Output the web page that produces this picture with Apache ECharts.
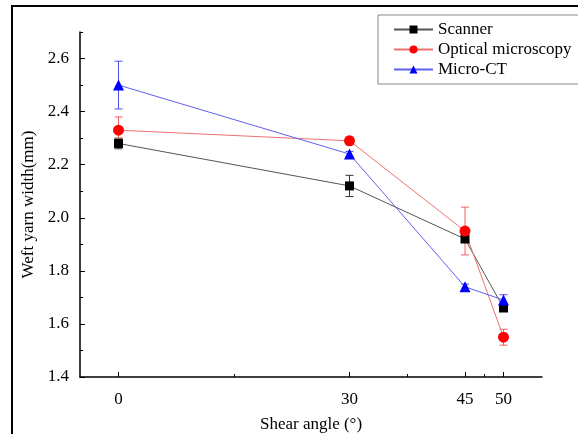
<!DOCTYPE html>
<html>
<head>
<meta charset="utf-8">
<script src="https://cdn.jsdelivr.net/npm/echarts@6/dist/echarts.min.js"></script>
<style>
  html, body { margin: 0; padding: 0; background: #fff; }
  #main { width: 578px; height: 434px; }
</style>
</head>
<body>
<div id="main"></div>
<script>
// shear angles (deg)
const angles = [0, 30, 45, 50];
const xLabelTicks = [0, 30, 45, 50];
const xMinorTicks = [15, 37.5, 47.5];
const yLabelTicks = [1.4, 1.6, 1.8, 2.0, 2.2, 2.4, 2.6];
const yMinorTicks = [1.5, 1.7, 1.9, 2.1, 2.3, 2.5, 2.7];

// weft yarn width (mm) and std deviation
const scanner = [2.28, 2.12, 1.92, 1.66];
const scannerErr = [0.02, 0.04, 0.01, 0.01];
const optical = [2.33, 2.29, 1.95, 1.55];
const opticalErr = [0.05, 0.015, 0.09, 0.03];
const microCT = [2.50, 2.24, 1.74, 1.69];
const microCTErr = [0.09, 0.01, 0.01, 0.02];

const font = 'Liberation Serif, Times New Roman, serif';

function pairs(vals) {
  return angles.map((a, i) => [a, vals[i]]);
}
function errData(vals, errs) {
  return angles.map((a, i) => [a, vals[i] - errs[i], vals[i] + errs[i]]);
}
function errSeries(name, vals, errs, color) {
  return {
    type: 'custom',
    name: name + ' error',
    data: errData(vals, errs),
    z: 1,
    silent: true,
    renderItem: function (params, api) {
      const x = api.value(0);
      const lo = api.coord([x, api.value(1)]);
      const hi = api.coord([x, api.value(2)]);
      const w = 4;
      const style = { stroke: color, lineWidth: 1 };
      return {
        type: 'group',
        children: [
          { type: 'line', shape: { x1: lo[0], y1: lo[1], x2: hi[0], y2: hi[1] }, style: style },
          { type: 'line', shape: { x1: lo[0] - w, y1: lo[1], x2: lo[0] + w, y2: lo[1] }, style: style },
          { type: 'line', shape: { x1: hi[0] - w, y1: hi[1], x2: hi[0] + w, y2: hi[1] }, style: style }
        ]
      };
    }
  };
}

const chart = echarts.init(document.getElementById('main'));

chart.setOption({
  animation: false,
  backgroundColor: '#fff',
  textStyle: { fontFamily: font },
  graphic: [{
    type: 'rect',
    shape: { x: 12, y: 6, width: 600, height: 460 },
    style: { fill: 'none', stroke: '#000', lineWidth: 2 },
    silent: true
  }],
  legend: {
    left: 378,
    top: 15,
    orient: 'vertical',
    data: ['Scanner', 'Optical microscopy', 'Micro-CT'],
    borderColor: '#888',
    borderWidth: 1,
    padding: [6, 30, 6, 15],
    itemGap: 3,
    itemWidth: 39,
    itemHeight: 10,
    textStyle: { fontFamily: font, fontSize: 17, color: '#000' }
  },
  grid: { left: 80, top: 32, right: 36, bottom: 57, containLabel: false, outerBoundsMode: 'none' },
  xAxis: [{
    type: 'value',
    min: -5,
    max: 55,
    name: 'Shear angle (°)',
    nameLocation: 'middle',
    nameGap: 39,
    nameTextStyle: { fontFamily: font, fontSize: 17, color: '#000' },
    axisLine: { onZero: false, lineStyle: { color: '#000', width: 1.5 } },
    axisTick: { inside: true, length: 5, customValues: xLabelTicks, lineStyle: { color: '#000' } },
    axisLabel: { customValues: xLabelTicks, fontFamily: font, fontSize: 17, color: '#000', margin: 14 },
    splitLine: { show: false }
  }, {
    type: 'value',
    position: 'bottom',
    offset: 0,
    min: -5,
    max: 55,
    axisLine: { show: false, onZero: false },
    axisTick: { inside: true, length: 3, customValues: xMinorTicks, lineStyle: { color: '#000' } },
    axisLabel: { show: false },
    splitLine: { show: false }
  }],
  yAxis: [{
    type: 'value',
    min: 1.4,
    max: 2.7,
    name: 'Weft yarn width(mm)',
    nameLocation: 'middle',
    nameGap: 38,
    nameTextStyle: { fontFamily: font, fontSize: 17, color: '#000' },
    axisLine: { show: true, onZero: false, lineStyle: { color: '#000', width: 1.5 } },
    axisTick: { inside: true, length: 5, customValues: yLabelTicks, lineStyle: { color: '#000' } },
    axisLabel: {
      customValues: yLabelTicks,
      fontFamily: font, fontSize: 17, color: '#000', margin: 11,
      formatter: v => v.toFixed(1)
    },
    splitLine: { show: false }
  }, {
    type: 'value',
    position: 'left',
    offset: 0,
    min: 1.4,
    max: 2.7,
    axisLine: { show: false, onZero: false },
    axisTick: { show: true, inside: true, length: 3, customValues: yMinorTicks, lineStyle: { color: '#000' } },
    axisLabel: { show: false },
    splitLine: { show: false }
  }],
  series: [
    errSeries('Scanner', scanner, scannerErr, '#333'),
    errSeries('Optical microscopy', optical, opticalErr, '#f06060'),
    errSeries('Micro-CT', microCT, microCTErr, '#5050f0'),
    {
      name: 'Scanner',
      type: 'line',
      data: pairs(scanner),
      symbol: 'rect',
      symbolSize: 9,
      z: 3,
      itemStyle: { color: '#000' },
      lineStyle: { color: '#555', width: 1 }
    },
    {
      name: 'Optical microscopy',
      type: 'line',
      data: pairs(optical),
      symbol: 'circle',
      symbolSize: 11,
      z: 3,
      itemStyle: { color: '#ff0000' },
      lineStyle: { color: '#f07070', width: 1 }
    },
    {
      name: 'Micro-CT',
      type: 'line',
      data: pairs(microCT),
      symbol: 'triangle',
      symbolSize: 11,
      z: 3,
      itemStyle: { color: '#0000ff' },
      lineStyle: { color: '#6060f0', width: 1 }
    }
  ]
});
</script>
</body>
</html>
